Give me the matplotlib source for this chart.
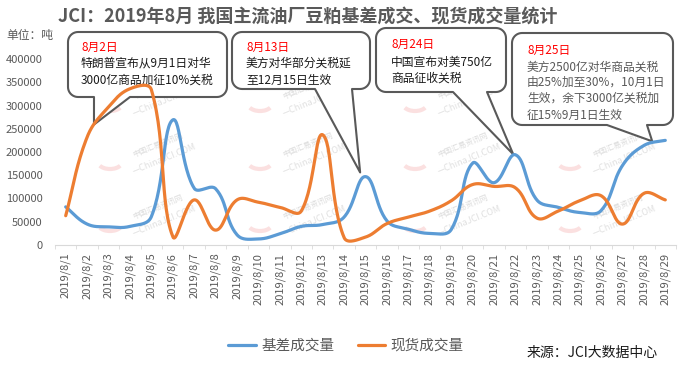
import numpy as np
import matplotlib
matplotlib.use('Agg')
import matplotlib.pyplot as plt
from matplotlib.path import Path
from matplotlib.patches import PathPatch, Arc
from matplotlib.transforms import IdentityTransform

plt.rcParams['font.family'] = ['Noto Sans CJK SC', 'DejaVu Sans']

# ---- data ----
dates = ['2019/8/%d' % d for d in range(1, 30)]
basis = [82000, 45000, 39000, 40000, 61000, 269000, 122000, 121000, 22000, 13000,
         24000, 40000, 44000, 60000, 147000, 52000, 34000, 25000, 33000, 176000,
         134000, 194000, 97000, 81000, 70000, 74000, 171000, 214000, 225000]
spot = [63000, 232000, 297000, 336000, 334000, 18000, 97000, 32000, 97000, 92000,
        81000, 73000, 237000, 16000, 17000, 46000, 60000, 73000, 95000, 130000,
        126000, 123000, 58000, 73000, 95000, 106000, 45000, 111000, 97000]
series_names = ['基差成交量', '现货成交量']

note1 = ['8月2日', '特朗普宣布从9月1日对华', '3000亿商品加征10%关税']
note2 = ['8月13日', '美方对华部分关税延', '至12月15日生效']
note3 = ['8月24日', '中国宣布对美750亿', '商品征收关税']
note4 = ['8月25日', '美方2500亿对华商品关税', '由25%加至30%，10月1日',
         '生效，余下3000亿关税加', '征15%9月1日生效']

W, H = 688, 366
GRAY = '#595959'
SX = 621 / 29          # px per category
SY = 186 / 400000      # px per ton


def smooth(y, f=0.4, n=30):
    # excel like smoothed line: bezier, tangent from neighbours,
    # handle length weighted by the on-screen segment lengths
    p = np.column_stack([np.arange(len(y)) * SX, np.asarray(y, float) * SY])
    m = len(p)
    seg = np.hypot(*np.diff(p, axis=0).T)
    out = []
    t = np.linspace(0, 1, n, endpoint=False)[:, None]
    for i in range(m - 1):
        a, b = p[i], p[i + 1]
        if i > 0:
            d = p[i + 1] - p[i - 1]
            c1 = a + d * f * seg[i] / (seg[i - 1] + seg[i])
        else:
            c1 = a + (b - a) / 3
        if i + 2 < m:
            d = p[i + 2] - p[i]
            c2 = b - d * f * seg[i] / (seg[i] + seg[i + 1])
        else:
            c2 = b - (b - a) / 3
        out.append((1 - t) ** 3 * a + 3 * (1 - t) ** 2 * t * c1
                   + 3 * (1 - t) * t ** 2 * c2 + t ** 3 * b)
    out.append(p[-1:])
    out = np.vstack(out)
    return out[:, 0] / SX, out[:, 1] / SY


fig = plt.figure(figsize=(W / 100, H / 100), dpi=100)
ax = fig.add_axes([55 / W, 1 - 245 / H, 621 / W, 186 / H])
ax.set_facecolor('none')
ax.set_xlim(-0.5, 28.5)
ax.set_ylim(0, 400000)

bx, by = smooth(basis)
sx, sy = smooth(spot)
l1, = ax.plot(bx, by, color='#5B9BD5', lw=2.3, zorder=3, solid_capstyle='round')
l2, = ax.plot(sx, sy, color='#ED7D31', lw=2.3, zorder=3, solid_capstyle='round')

for s in ['top', 'right', 'left']:
    ax.spines[s].set_visible(False)
ax.spines['bottom'].set_color('#d9d9d9')

ax.set_yticks(np.arange(0, 400001, 50000))
ax.set_yticklabels([str(v) for v in range(0, 400001, 50000)])
ax.tick_params(axis='y', length=0, pad=9, labelsize=8, labelcolor=GRAY)
ax.set_xticks(range(len(dates)))
ax.set_xticklabels(dates, rotation=90)
ax.set_xticks(np.arange(-0.5, len(dates), 1), minor=True)
ax.tick_params(axis='x', which='major', length=0, pad=5.5, labelsize=8, labelcolor=GRAY)
ax.tick_params(axis='x', which='minor', length=3, color='#d9d9d9')

# watermark
for wx in [150, 300, 455, 610]:
    for wy in [92, 150, 212]:
        fx, fy = wx / W, 1 - wy / H
        ax.text(fx + 0.012, fy + 0.012, '中国汇易资讯网', transform=fig.transFigure,
                rotation=22, fontsize=5.5, color='#dcdcdc', ha='center', va='center',
                zorder=0.5, clip_on=False)
        ax.text(fx + 0.02, fy - 0.025, '—ChinaJCI.COM', transform=fig.transFigure,
                rotation=22, fontsize=6.5, color='#e0e0e0', ha='center', va='center',
                zorder=0.5, clip_on=False)
        ax.add_patch(Arc((wx - 40, H - wy - 12), 24, 14, theta1=200, theta2=340,
                         transform=IdentityTransform(), color='#fbe0e0', lw=3,
                         zorder=0.5, clip_on=False))


def callout(box, base, tip, lines, tx, ty, color, r=10):
    x0, y0, x1, y1 = box
    top, bot = H - y0, H - y1
    tpx, tpy = ax.transData.transform(tip)

    def arc(cx, cy, a0, a1):
        a = np.radians(np.linspace(a0, a1, 10))
        return list(zip(cx + r * np.cos(a), cy + r * np.sin(a)))

    pts = [(base[1], bot), (x1 - r, bot)]
    pts += arc(x1 - r, bot + r, -90, 0)
    pts += [(x1, top - r)]
    pts += arc(x1 - r, top - r, 0, 90)
    pts += [(x0 + r, top)]
    pts += arc(x0 + r, top - r, 90, 180)
    pts += [(x0, bot + r)]
    pts += arc(x0 + r, bot + r, 180, 270)
    pts += [(base[0], bot), (tpx, tpy), (base[1], bot)]
    codes = [Path.MOVETO] + [Path.LINETO] * (len(pts) - 2) + [Path.CLOSEPOLY]
    ax.add_patch(PathPatch(Path(pts, codes), transform=IdentityTransform(),
                           facecolor='white', edgecolor=GRAY, lw=1.5,
                           zorder=1, clip_on=False, joinstyle='round'))
    for k, (txt, yy) in enumerate(zip(lines, ty)):
        ax.text(tx / W, 1 - yy / H, txt, transform=fig.transFigure,
                fontsize=8.5, color='#ff0000' if k == 0 else color,
                ha='left', va='center', zorder=2, clip_on=False)


callout((68, 32, 227, 97), (94, 130), (1.32, 259000), note1, 81, [47, 63, 80], '#1a1a1a')
callout((232, 32, 370, 89), (315, 352), (13.75, 156000), note2, 246, [47, 63, 80], '#1a1a1a')
callout((376, 28, 506, 92), (453, 487), (20.90, 195000), note3, 391, [44, 62, 78], '#1a1a1a')
callout((512, 33, 673, 125), (607, 647), (27.39, 223000), note4, 527,
        [50, 67, 82, 98, 115], GRAY)

fig.text(308 / W, 1 - 16 / H, 'JCI：2019年8月 我国主流油厂豆粕基差成交、现货成交量统计',
         ha='center', va='center', fontsize=13, fontweight='bold', color=GRAY)
fig.text(6 / W, 1 - 35 / H, '单位：吨', ha='left', va='center', fontsize=8.5, color=GRAY)
fig.text(527 / W, 1 - 353 / H, '来源：JCI大数据中心', ha='left', va='center',
         fontsize=10, color='#1a1a1a')

leg = fig.legend([l1, l2], series_names, loc='center', bbox_to_anchor=(346 / W, 1 - 346 / H),
                 ncol=2, frameon=False, handlelength=1.9, handletextpad=0.35,
                 columnspacing=1.6, fontsize=10.5)
for t in leg.get_texts():
    t.set_color(GRAY)

fig.savefig('out.png', dpi=100)
